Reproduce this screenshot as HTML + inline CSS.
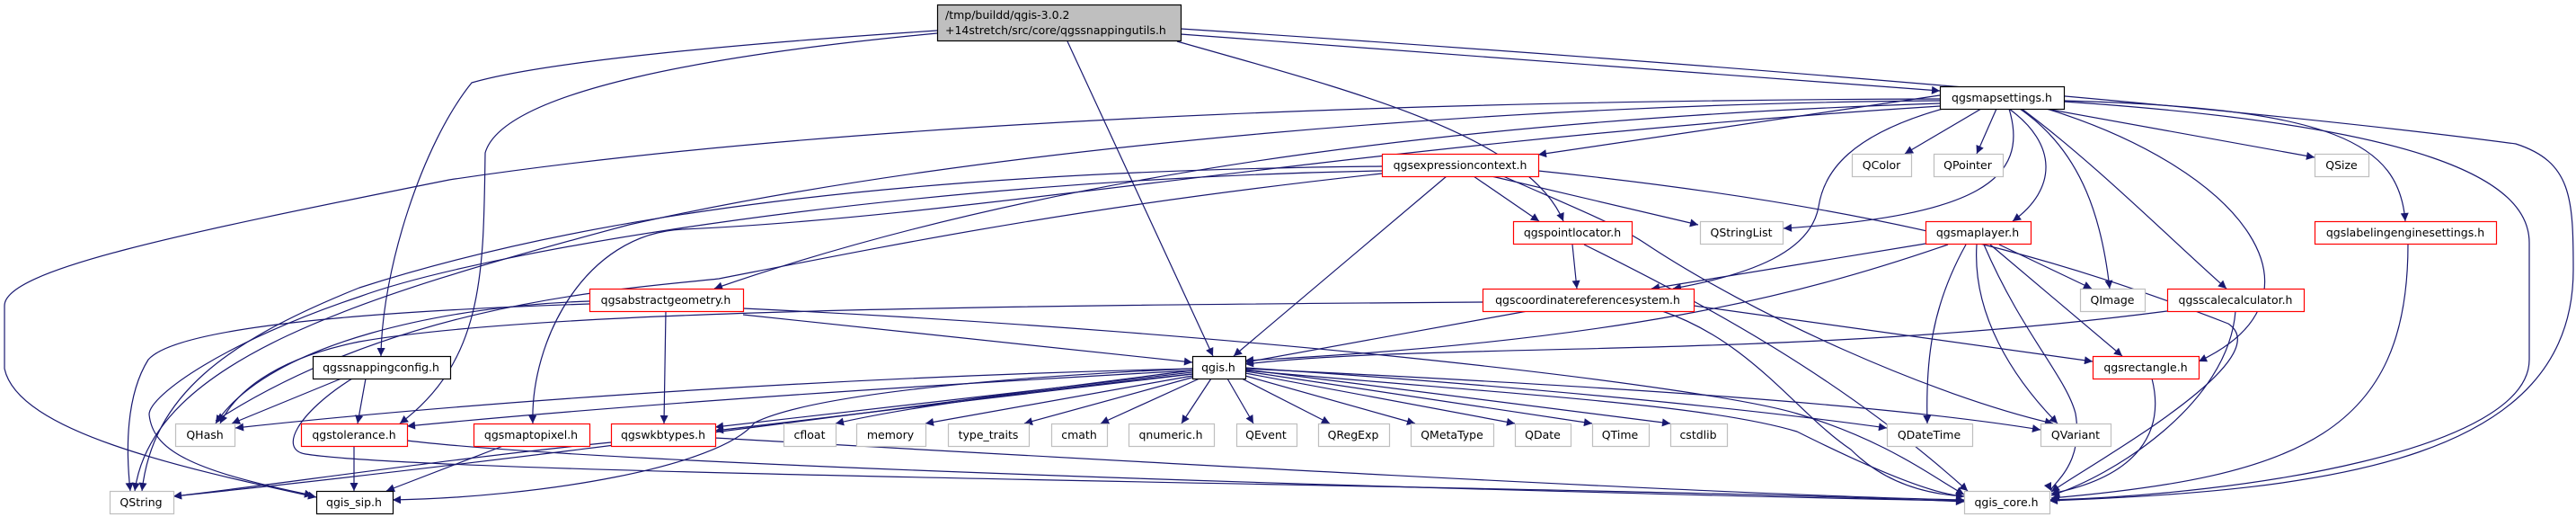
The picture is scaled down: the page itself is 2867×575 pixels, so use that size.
<!DOCTYPE html>
<html><head><meta charset="utf-8"><style>
html,body{margin:0;padding:0;background:#fff;}
svg{display:block;}
text{font-family:"DejaVu Sans","Liberation Sans",sans-serif;font-size:12.5px;fill:#000;}
.e{fill:none;stroke:#191970;stroke-width:1.2;}
</style></head><body>
<svg width="2867" height="575" viewBox="0 0 2867 575" xmlns="http://www.w3.org/2000/svg">
<defs>
<marker id="a" viewBox="0 0 10 10" refX="10" refY="5" markerWidth="11" markerHeight="9" markerUnits="userSpaceOnUse" orient="auto">
<path d="M0,0 L10,5 L0,10 z" fill="#191970"/>
</marker>
</defs>
<g class="e" marker-end="url(#a)">
<path d="M1314,38 L2159,101"/>
<path d="M1314,32 C1900,70 2500,120 2800,160 C2862,180 2864,220 2864,300 C2864,510 2600,545 2281,557"/>
<path d="M1043,34 C800,50 600,70 525,92 C470,160 425,300 424,396"/>
<path d="M1043,37 C800,60 560,100 540,170 C538,300 540,400 445,471"/>
<path d="M1188,46 L1350,396"/>
<path d="M1310,46 C1500,100 1700,150 1740,246"/>
<path d="M2205,121 L2120,171"/>
<path d="M2222,121 L2200,171"/>
<path d="M2277,121 L2576,175"/>
<path d="M2236,121 C2290,160 2290,210 2240,246"/>
<path d="M2297,112 C2600,120 2670,160 2677,246"/>
<path d="M2248,121 C2320,170 2340,250 2348,321"/>
<path d="M2250,121 C2330,180 2420,270 2478,321"/>
<path d="M2278,121 C2500,190 2600,330 2447,402"/>
<path d="M2297,113 C2700,140 2815,200 2815,270 L2815,400 C2815,500 2500,550 2281,556"/>
<path d="M2236,121 C2260,200 2200,240 1985,254"/>
<path d="M2162,121 C2060,150 2030,190 2024,230 C2015,280 1950,305 1862,321"/>
<path d="M2159,106 L1712,172"/>
<path d="M2159,110 C1500,112 900,140 500,200 C200,260 5,300 5,340 L5,410 C20,480 200,520 352,553"/>
<path d="M2159,112 C1700,115 1100,160 700,250 C400,330 170,400 150,546"/>
<path d="M2159,115 C1700,130 1200,180 795,321"/>
<path d="M2159,118 C1500,160 1100,240 760,255 C650,260 590,380 593,471"/>
<path d="M1640,196 L1713,246"/>
<path d="M1660,196 L1890,250"/>
<path d="M1673,196 C1750,230 1800,250 1830,270 C1950,350 2150,440 2285,471"/>
<path d="M1610,196 L1373,396"/>
<path d="M1712,190 C2100,230 2300,290 2480,360 C2540,400 2320,520 2283,547"/>
<path d="M1538,185 C1000,190 650,240 400,320 C250,380 170,440 158,546"/>
<path d="M1538,190 C1000,200 536,280 400,330 C250,380 166,440 166,461 C170,500 210,523 348,551"/>
<path d="M1538,193 C1200,230 1000,271 800,310 C700,321 446,335 240,468"/>
<path d="M1750,272 L1755,321"/>
<path d="M1763,272 C1900,340 2050,420 2190,546"/>
<path d="M2143,271 L1838,321"/>
<path d="M2168,272 C2000,330 1800,380 1386,401"/>
<path d="M2188,272 C2150,340 2143,400 2145,471"/>
<path d="M2200,272 C2195,350 2240,420 2290,471"/>
<path d="M2208,272 C2250,370 2300,420 2310,460 C2320,520 2280,540 2283,546"/>
<path d="M2215,272 L2362,396"/>
<path d="M2225,272 L2328,321"/>
<path d="M656,335 C500,340 300,380 240,471"/>
<path d="M656,338 C450,345 200,360 165,400 C140,440 140,500 145,546"/>
<path d="M827,350 L1327,403"/>
<path d="M741,346 L739,471"/>
<path d="M827,343 C1400,370 1900,430 2000,460 C2100,490 2150,530 2186,550"/>
<path d="M1700,346 L1386,403"/>
<path d="M1650,336 C1100,340 600,345 400,380 C300,400 260,440 245,471"/>
<path d="M1885,340 L2329,402"/>
<path d="M1850,346 C1950,380 2000,460 2060,500 C2100,540 2150,550 2186,552"/>
<path d="M2412,346 C2000,400 1600,380 1386,405"/>
<path d="M2488,346 C2480,450 2350,530 2283,551"/>
<path d="M2395,421 C2410,480 2380,530 2283,549"/>
<path d="M2680,272 C2680,480 2560,530 2283,554"/>
<path d="M380,421 L258,471"/>
<path d="M407,421 L398,471"/>
<path d="M392,421 C330,460 310,500 340,505 C500,530 1800,540 2186,558"/>
<path d="M394,496 L394,546"/>
<path d="M453,490 C700,520 1800,550 2186,557"/>
<path d="M560,496 L430,546"/>
<path d="M680,492 C500,510 300,540 193,552"/>
<path d="M796,487 C1200,510 1900,550 2186,556"/>
<path d="M1327,410 C900,420 500,450 262,476"/>
<path d="M1327,412 C1000,430 700,450 453,474"/>
<path d="M1327,414 L796,475"/>
<path d="M1327,416 L796,479"/>
<path d="M1327,416 C1100,440 1000,455 930,471"/>
<path d="M1327,418 L1030,471"/>
<path d="M1330,419 L1140,471"/>
<path d="M1335,421 L1225,471"/>
<path d="M1348,421 L1315,471"/>
<path d="M1366,421 L1395,471"/>
<path d="M1382,421 L1480,471"/>
<path d="M1386,418 L1575,471"/>
<path d="M1386,415 L1686,471"/>
<path d="M1386,413 L1772,471"/>
<path d="M1386,411 L1859,471"/>
<path d="M1386,409 C1700,430 1950,455 2100,476"/>
<path d="M1386,410 C1800,430 2100,450 2271,478"/>
<path d="M1386,412 C1700,440 1900,450 2000,480 C2080,520 2150,550 2186,552"/>
<path d="M1327,412 C1100,440 600,510 193,552"/>
<path d="M1327,410 C1100,420 900,440 840,470 C800,520 600,553 437,556"/>
</g>

<g stroke-width="1.2">
<rect x="1043.5" y="5.5" width="271" height="40" fill="#bfbfbf" stroke="#000"/>
<text x="1052" y="21">/tmp/buildd/qgis-3.0.2</text>
<text x="1052" y="38">+14stretch/src/core/qgssnappingutils.h</text>
</g>

<g stroke-width="1.2" fill="#fff">
<rect x="2159.5" y="96.5" width="138" height="25" stroke="#000"/>
<rect x="1538.5" y="171.5" width="174" height="25" stroke="#f00"/>
<rect x="2061.5" y="171.5" width="66" height="25" stroke="#bfbfbf"/>
<rect x="2152.5" y="171.5" width="77" height="25" stroke="#bfbfbf"/>
<rect x="2576.5" y="171.5" width="60" height="25" stroke="#bfbfbf"/>
<rect x="1684.5" y="246.5" width="132" height="25" stroke="#f00"/>
<rect x="1892.5" y="246.5" width="92" height="25" stroke="#bfbfbf"/>
<rect x="2143.5" y="246.5" width="117" height="25" stroke="#f00"/>
<rect x="2576.5" y="246.5" width="202" height="25" stroke="#f00"/>
<rect x="656.5" y="321.5" width="171" height="25" stroke="#f00"/>
<rect x="1650.5" y="321.5" width="235" height="25" stroke="#f00"/>
<rect x="2315.5" y="321.5" width="72" height="25" stroke="#bfbfbf"/>
<rect x="2412.5" y="321.5" width="152" height="25" stroke="#f00"/>
<rect x="348.5" y="396.5" width="153" height="25" stroke="#000"/>
<rect x="1327.5" y="396.5" width="59" height="25" stroke="#000"/>
<rect x="2329.5" y="396.5" width="118" height="25" stroke="#f00"/>
<rect x="195.5" y="471.5" width="66" height="25" stroke="#bfbfbf"/>
<rect x="335.5" y="471.5" width="118" height="25" stroke="#f00"/>
<rect x="527.5" y="471.5" width="129" height="25" stroke="#f00"/>
<rect x="680.5" y="471.5" width="116" height="25" stroke="#f00"/>
<rect x="872.5" y="471.5" width="58" height="25" stroke="#bfbfbf"/>
<rect x="953.5" y="471.5" width="77" height="25" stroke="#bfbfbf"/>
<rect x="1055.5" y="471.5" width="90" height="25" stroke="#bfbfbf"/>
<rect x="1170.5" y="471.5" width="62" height="25" stroke="#bfbfbf"/>
<rect x="1256.5" y="471.5" width="95" height="25" stroke="#bfbfbf"/>
<rect x="1376.5" y="471.5" width="67" height="25" stroke="#bfbfbf"/>
<rect x="1467.5" y="471.5" width="79" height="25" stroke="#bfbfbf"/>
<rect x="1570.5" y="471.5" width="92" height="25" stroke="#bfbfbf"/>
<rect x="1686.5" y="471.5" width="62" height="25" stroke="#bfbfbf"/>
<rect x="1772.5" y="471.5" width="63" height="25" stroke="#bfbfbf"/>
<rect x="1859.5" y="471.5" width="63" height="25" stroke="#bfbfbf"/>
<rect x="2100.5" y="471.5" width="95" height="25" stroke="#bfbfbf"/>
<rect x="2271.5" y="471.5" width="78" height="25" stroke="#bfbfbf"/>
<rect x="122.5" y="546.5" width="71" height="25" stroke="#bfbfbf"/>
<rect x="352.5" y="546.5" width="85" height="25" stroke="#000"/>
<rect x="2186.5" y="546.5" width="95" height="25" stroke="#bfbfbf"/>
</g>

<g text-anchor="middle">
<text x="2228" y="113">qgsmapsettings.h</text>
<text x="1625" y="188">qgsexpressioncontext.h</text>
<text x="2094" y="188">QColor</text>
<text x="2190" y="188">QPointer</text>
<text x="2606" y="188">QSize</text>
<text x="1750" y="263">qgspointlocator.h</text>
<text x="1938" y="263">QStringList</text>
<text x="2201" y="263">qgsmaplayer.h</text>
<text x="2677" y="263">qgslabelingenginesettings.h</text>
<text x="741" y="338">qgsabstractgeometry.h</text>
<text x="1767" y="338">qgscoordinatereferencesystem.h</text>
<text x="2351" y="338">QImage</text>
<text x="2488" y="338">qgsscalecalculator.h</text>
<text x="424" y="413">qgssnappingconfig.h</text>
<text x="1356" y="413">qgis.h</text>
<text x="2388" y="413">qgsrectangle.h</text>
<text x="228" y="488">QHash</text>
<text x="394" y="488">qgstolerance.h</text>
<text x="591" y="488">qgsmaptopixel.h</text>
<text x="738" y="488">qgswkbtypes.h</text>
<text x="901" y="488">cfloat</text>
<text x="991" y="488">memory</text>
<text x="1100" y="488">type_traits</text>
<text x="1201" y="488">cmath</text>
<text x="1303" y="488">qnumeric.h</text>
<text x="1409" y="488">QEvent</text>
<text x="1506" y="488">QRegExp</text>
<text x="1616" y="488">QMetaType</text>
<text x="1717" y="488">QDate</text>
<text x="1803" y="488">QTime</text>
<text x="1890" y="488">cstdlib</text>
<text x="2147" y="488">QDateTime</text>
<text x="2310" y="488">QVariant</text>
<text x="157" y="563">QString</text>
<text x="394" y="563">qgis_sip.h</text>
<text x="2233" y="563">qgis_core.h</text>
</g>
</svg>
</body></html>
